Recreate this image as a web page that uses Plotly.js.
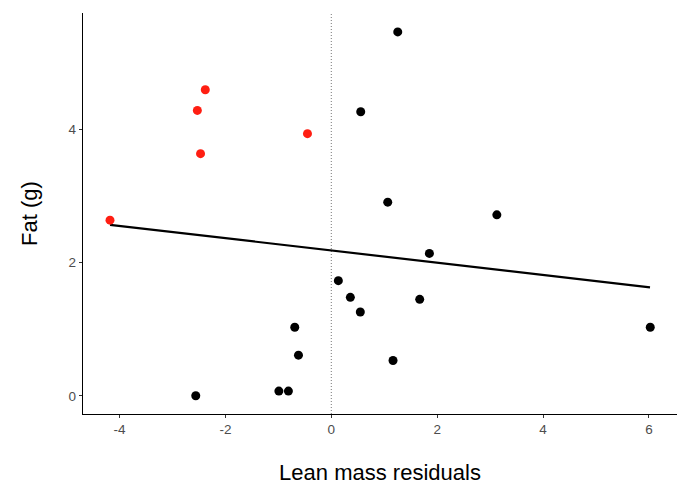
<!DOCTYPE html>
<html>
<head>
<meta charset="utf-8">
<script src="https://cdn.plot.ly/plotly-3.0.1.min.js"></script>
<style>html,body{margin:0;padding:0;background:#fff;overflow:hidden;}#chart{width:682px;height:485px;}</style>
</head>
<body>
<div id="chart"></div>
<script>
// Red group (lean mass residual, fat)
var redX = [-4.18, -2.38, -2.53, -2.47, -0.45];
var redY = [2.64, 4.60, 4.29, 3.64, 3.94];
// Black group
var blackX = [1.255, 0.556, 1.066, 3.127, 1.853, 0.133, 0.36, 0.548, 1.67, 1.166, 6.025, -0.69, -0.62, -0.99, -0.81, -2.56];
var blackY = [5.47, 4.27, 2.91, 2.72, 2.14, 1.73, 1.48, 1.26, 1.45, 0.53, 1.03, 1.03, 0.61, 0.07, 0.07, 0.00];
// Fitted regression line
var fitX = [-4.18, 6.02];
var fitY = [2.57, 1.63];
// Reference line
var refX = 0;
var xTicks = [-4, -2, 0, 2, 4, 6];
var yTicks = [0, 2, 4];

var traces = [
  {x: fitX, y: fitY, type: 'scatter', mode: 'lines', line: {color: '#000', width: 2.2}, hoverinfo: 'skip'},
  {x: blackX, y: blackY, type: 'scatter', mode: 'markers', marker: {color: '#000', size: 9}},
  {x: redX, y: redY, type: 'scatter', mode: 'markers', marker: {color: '#ff1e12', size: 9}}
];

var layout = {
  width: 682, height: 485,
  margin: {l: 83, r: 5, t: 13, b: 71},
  paper_bgcolor: '#fff', plot_bgcolor: '#fff',
  showlegend: false,
  font: {family: 'Liberation Sans, Arial, sans-serif', color: '#000'},
  xaxis: {
    range: [-4.69, 6.53], tickvals: xTicks, ticktext: xTicks.map(String),
    showgrid: false, zeroline: false, showline: true, linecolor: '#000', linewidth: 1.2,
    ticks: 'outside', ticklen: 3, tickcolor: '#333', tickwidth: 1,
    tickfont: {size: 13.5, color: '#4d4d4d'},
    title: {text: 'Lean mass residuals', font: {size: 22, color: '#000'}, standoff: 35}
  },
  yaxis: {
    range: [-0.274, 5.754], tickvals: yTicks, ticktext: yTicks.map(String),
    showgrid: false, zeroline: false, showline: true, linecolor: '#000', linewidth: 1.2,
    ticks: 'outside', ticklen: 3, tickcolor: '#333', tickwidth: 1,
    tickfont: {size: 13.5, color: '#4d4d4d'},
    title: {text: 'Fat (g)', font: {size: 22, color: '#000'}, standoff: 24}
  },
  shapes: [{type: 'line', xref: 'x', yref: 'paper', x0: refX, x1: refX, y0: 0, y1: 1,
            line: {color: '#777', width: 1, dash: '1px,2px'}, layer: 'below'}]
};

Plotly.newPlot('chart', traces, layout, {displayModeBar: false, staticPlot: true});
</script>
</body>
</html>
